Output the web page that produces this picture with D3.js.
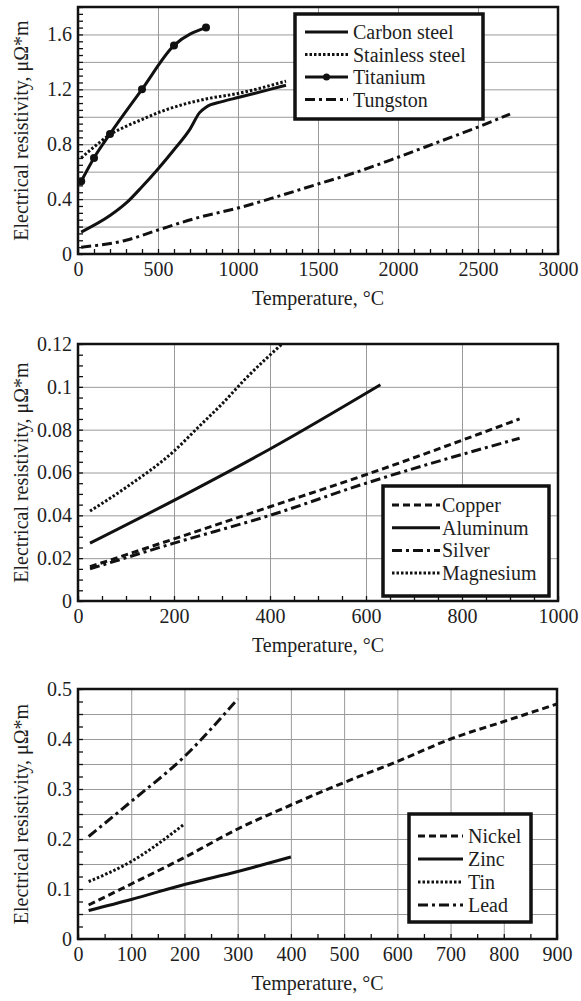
<!DOCTYPE html>
<html>
<head>
<meta charset="utf-8">
<script src="https://cdn.jsdelivr.net/npm/d3@7"></script>
<style>
  body { margin: 0; background: #fff; }
  svg text { font-family: "Liberation Serif", Tinos, "Times New Roman", Times, "DejaVu Serif", "Noto Serif", FreeSerif, serif !important; }
  .grid line { stroke: #9a9a9a; stroke-width: 1; }
  .grid path, .minor path, .labels path { display: none; }
  .minor line { stroke: #111; stroke-width: 1.3; }
  .labels text { font-size: 20px; fill: #1e1e1e; }
  .axis-title { font-size: 20px; fill: #1e1e1e; }
  .legend text { font-size: 20px; fill: #1e1e1e; }
</style>
</head>
<body>
<svg id="chart" width="581" height="1001" font-family="Liberation Serif, serif"></svg>
<script>
// ---- panel 1: steels, titanium, tungsten ----
const tempTicks1 = [0, 500, 1000, 1500, 2000, 2500, 3000];
const rhoTicks1 = [0, 0.4, 0.8, 1.2, 1.6];
const names1 = ["Carbon steel", "Stainless steel", "Titanium", "Tungston"];
const carbonSteel = [[20, 0.16], [200, 0.28], [300, 0.37], [400, 0.49], [500, 0.62], [600, 0.76], [700, 0.91], [760, 1.03], [800, 1.07], [900, 1.11], [1000, 1.14], [1200, 1.20], [1300, 1.23]];
const stainlessSteel = [[20, 0.70], [100, 0.78], [200, 0.87], [300, 0.93], [400, 0.98], [500, 1.03], [600, 1.07], [800, 1.13], [1000, 1.17], [1300, 1.26]];
const titanium = [[20, 0.53], [100, 0.70], [200, 0.875], [400, 1.20], [600, 1.52], [800, 1.65]];
const tungsten = [[20, 0.05], [300, 0.10], [500, 0.175], [750, 0.265], [1000, 0.335], [1250, 0.42], [1500, 0.51], [1750, 0.60], [2000, 0.705], [2250, 0.815], [2500, 0.925], [2700, 1.02]];

// ---- panel 2: copper, aluminum, silver, magnesium ----
const tempTicks2 = [0, 200, 400, 600, 800, 1000];
const rhoTicks2 = [0, 0.02, 0.04, 0.06, 0.08, 0.1, 0.12];
const names2 = ["Copper", "Aluminum", "Silver", "Magnesium"];
const copper = [[25, 0.016], [200, 0.029], [400, 0.044], [600, 0.059], [920, 0.085]];
const aluminum = [[25, 0.027], [200, 0.047], [400, 0.071], [630, 0.101]];
const silver = [[25, 0.015], [200, 0.027], [400, 0.040], [600, 0.055], [920, 0.076]];
const magnesium = [[25, 0.042], [100, 0.053], [200, 0.070], [250, 0.081], [300, 0.092], [350, 0.104], [425, 0.12]];

// ---- panel 3: nickel, zinc, tin, lead ----
const tempTicks3 = [0, 100, 200, 300, 400, 500, 600, 700, 800, 900];
const rhoTicks3 = [0, 0.1, 0.2, 0.3, 0.4, 0.5];
const names3 = ["Nickel", "Zinc", "Tin", "Lead"];
const nickel = [[20, 0.068], [100, 0.11], [200, 0.163], [300, 0.22], [400, 0.268], [500, 0.313], [600, 0.355], [700, 0.40], [800, 0.435], [900, 0.47]];
const zinc = [[20, 0.057], [100, 0.079], [200, 0.109], [300, 0.135], [400, 0.164]];
const tin = [[20, 0.115], [100, 0.155], [200, 0.23]];
const lead = [[20, 0.205], [100, 0.275], [200, 0.365], [300, 0.48]];

const dashes = {
  solid: null,
  dotted: "2.5,2",
  dashed: "7,4",
  dashdot: "10,4,3,4"
};

const svg = d3.select("#chart");

function drawPanel(p) {
  const w = p.right - p.left;
  const h = p.bottom - p.top;

  const x = d3.scaleLinear().domain(p.xDomain).range([p.left, p.right]);
  const y = d3.scaleLinear().domain(p.yDomain).range([p.bottom, p.top]);

  const g = svg.append("g");

  // grid
  g.append("g")
    .attr("class", "grid")
    .attr("transform", `translate(0,${p.bottom})`)
    .call(d3.axisBottom(x).tickValues(p.xTicks).tickSize(-h).tickFormat(""));

  g.append("g")
    .attr("class", "grid")
    .attr("transform", `translate(${p.left},0)`)
    .call(d3.axisLeft(y).tickValues(d3.range(p.yDomain[0], p.yDomain[1] + 1e-9, p.yGrid)).tickSize(-w).tickFormat(""));

  // minor ticks, pointing inward
  g.append("g")
    .attr("class", "minor")
    .attr("transform", `translate(0,${p.bottom})`)
    .call(d3.axisBottom(x).tickValues(d3.range(p.xDomain[0], p.xDomain[1] + 1e-9, p.xMinor)).tickSize(-5).tickFormat(""));

  g.append("g")
    .attr("class", "minor")
    .attr("transform", `translate(${p.left},0)`)
    .call(d3.axisLeft(y).tickValues(d3.range(p.yDomain[0], p.yDomain[1] + 1e-9, p.yMinor)).tickSize(-5).tickFormat(""));

  // tick labels
  g.append("g")
    .attr("class", "labels")
    .attr("transform", `translate(0,${p.bottom})`)
    .call(d3.axisBottom(x).tickValues(p.xTicks).tickSize(0).tickPadding(8).tickFormat(d => String(d)));

  g.append("g")
    .attr("class", "labels")
    .attr("transform", `translate(${p.left},0)`)
    .call(d3.axisLeft(y).tickValues(p.yTicks).tickSize(0).tickPadding(6).tickFormat(d => String(d)));

  // frame
  g.append("rect")
    .attr("x", p.left)
    .attr("y", p.top)
    .attr("width", w)
    .attr("height", h)
    .attr("fill", "none")
    .attr("stroke", "#111")
    .attr("stroke-width", 2.5);

  // series
  const line = d3.line()
    .x(d => x(d[0]))
    .y(d => y(d[1]))
    .curve(d3.curveMonotoneX);

  p.series.forEach(s => {
    g.append("path")
      .datum(s.values)
      .attr("d", line)
      .attr("fill", "none")
      .attr("stroke", "#111")
      .attr("stroke-width", 3)
      .attr("stroke-dasharray", dashes[s.style]);

    if (s.markers) {
      g.selectAll(null)
        .data(s.values)
        .enter()
        .append("circle")
        .attr("cx", d => x(d[0]))
        .attr("cy", d => y(d[1]))
        .attr("r", 4)
        .attr("fill", "#111");
    }
  });

  // axis titles
  g.append("text")
    .attr("class", "axis-title")
    .attr("x", (p.left + p.right) / 2)
    .attr("y", p.bottom + 51)
    .attr("text-anchor", "middle")
    .text("Temperature, °C");

  g.append("text")
    .attr("class", "axis-title")
    .attr("transform", `translate(28,${(p.top + p.bottom) / 2}) rotate(-90)`)
    .attr("text-anchor", "middle")
    .text("Electrical resistivity, μΩ*m");

  // legend
  const L = p.legend;
  const leg = g.append("g").attr("class", "legend");

  leg.append("rect")
    .attr("x", L.x)
    .attr("y", L.y)
    .attr("width", L.w)
    .attr("height", L.h)
    .attr("fill", "#fff")
    .attr("stroke", "#111")
    .attr("stroke-width", 3.5);

  p.series.forEach((s, i) => {
    const cy = L.row0 + i * L.step;

    leg.append("line")
      .attr("x1", L.lineX0)
      .attr("x2", L.lineX1)
      .attr("y1", cy)
      .attr("y2", cy)
      .attr("stroke", "#111")
      .attr("stroke-width", 3)
      .attr("stroke-dasharray", dashes[s.style]);

    if (s.markers) {
      leg.append("circle")
        .attr("cx", (L.lineX0 + L.lineX1) / 2)
        .attr("cy", cy)
        .attr("r", 3.5)
        .attr("fill", "#111");
    }

    leg.append("text")
      .attr("x", L.textX)
      .attr("y", cy + 7)
      .text(s.name);
  });
}

drawPanel({
  left: 78, right: 558, top: 7, bottom: 254,
  xDomain: [0, 3000], yDomain: [0, 1.8],
  xTicks: tempTicks1, yTicks: rhoTicks1,
  xMinor: 100, yMinor: 0.05, yGrid: 0.2,
  series: [
    { name: names1[0], values: carbonSteel, style: "solid" },
    { name: names1[1], values: stainlessSteel, style: "dotted" },
    { name: names1[2], values: titanium, style: "solid", markers: true },
    { name: names1[3], values: tungsten, style: "dashdot" }
  ],
  legend: { x: 295, y: 14, w: 188, h: 105, row0: 32, step: 22.5, lineX0: 305, lineX1: 348, textX: 353 }
});

drawPanel({
  left: 78, right: 558, top: 344, bottom: 601,
  xDomain: [0, 1000], yDomain: [0, 0.12],
  xTicks: tempTicks2, yTicks: rhoTicks2,
  xMinor: 50, yMinor: 0.005, yGrid: 0.02,
  series: [
    { name: names2[0], values: copper, style: "dashed" },
    { name: names2[1], values: aluminum, style: "solid" },
    { name: names2[2], values: silver, style: "dashdot" },
    { name: names2[3], values: magnesium, style: "dotted" }
  ],
  legend: { x: 383, y: 486, w: 166, h: 110, row0: 505, step: 22.7, lineX0: 392, lineX1: 440, textX: 442 }
});

drawPanel({
  left: 78, right: 557, top: 689, bottom: 939,
  xDomain: [0, 900], yDomain: [0, 0.5],
  xTicks: tempTicks3, yTicks: rhoTicks3,
  xMinor: 50, yMinor: 0.025, yGrid: 0.05,
  series: [
    { name: names3[0], values: nickel, style: "dashed" },
    { name: names3[1], values: zinc, style: "solid" },
    { name: names3[2], values: tin, style: "dotted" },
    { name: names3[3], values: lead, style: "dashdot" }
  ],
  legend: { x: 409, y: 814, w: 122, h: 108, row0: 836, step: 23, lineX0: 418, lineX1: 463, textX: 468 }
});
</script>
</body>
</html>
